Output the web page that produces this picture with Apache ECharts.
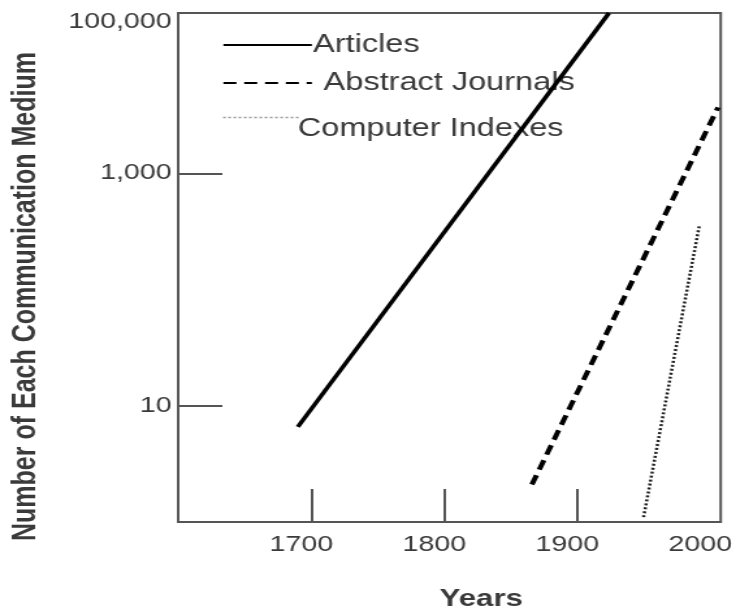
<!DOCTYPE html>
<html>
<head>
<meta charset="utf-8">
<script src="https://cdn.jsdelivr.net/npm/echarts@6/dist/echarts.min.js"></script>
<style>
  html, body { margin: 0; padding: 0; background: #fff; overflow: hidden; }
  #chart { width: 566px; height: 616px; transform: scaleX(1.3004); transform-origin: 0 0; }
</style>
</head>
<body>
<div id="chart"></div>
<script>
// ---- data ----
const seriesNames = ['Articles', 'Abstract Journals', 'Computer Indexes'];
const articlesYears = [1690, 1924];
const articlesValues = [6.6, 24000];
const abstractYears = [1866, 2006];
const abstractValues = [2.1, 3700];
const computerYears = [1950, 1992];
const computerValues = [1.1, 360];

const xTickValues = [1700, 1800, 1900];
const xLabelValues = [1700, 1800, 1900, 2000];
const yTickValues = [10, 1000];
const yLabelValues = [10, 1000, 23998];
const yLabelTexts = ['10', '1,000', '100,000'];

const xMin = 1600, xMax = 2008;
const yMin = 1, yMax = 24000;

function pairs(xs, ys) { return xs.map((x, i) => [x, ys[i]]); }

const FONT = 'Liberation Sans, Arial, sans-serif';
const AXIS_COLOR = '#555';
const TEXT_COLOR = '#3a3a3a';

const chart = echarts.init(document.getElementById('chart'), null, { renderer: 'canvas' });

chart.setOption({
  backgroundColor: '#fff',
  animation: false,
  textStyle: { fontFamily: FONT },
  grid: {
    left: 137, right: 10.8, top: 13, bottom: 86,
    show: true, borderColor: AXIS_COLOR, borderWidth: 2, backgroundColor: 'transparent'
  },
  legend: [
    {
      z: 1, padding: 0,
      orient: 'vertical', left: 170.8, top: 32.5,
      itemWidth: 68, itemHeight: 14, itemGap: 13,
      selectedMode: false,
      itemStyle: { opacity: 0 },
      textStyle: { fontSize: 25, lineHeight: 25, color: TEXT_COLOR, fontFamily: FONT },
      data: [
        { name: seriesNames[0], textStyle: { padding: [0, 0, 0, -4] } },
        { name: seriesNames[1], textStyle: { padding: [0, 0, 0, 4] } }
      ]
    },
    {
      z: 1, padding: 0,
      orient: 'vertical', left: 170.8, top: 93,
      itemWidth: 58.5, itemHeight: 14,
      selectedMode: false,
      itemStyle: { opacity: 0 },
      lineStyle: { color: '#999', width: 1.5 },
      formatter: '\n{name}',
      textStyle: { fontSize: 25, lineHeight: 24, color: TEXT_COLOR, fontFamily: FONT },
      data: [{ name: seriesNames[2], textStyle: { padding: [0, 0, 0, -6] } }]
    }
  ],
  xAxis: {
    type: 'value', min: xMin, max: xMax,
    name: 'Years', nameLocation: 'middle', nameGap: 65,
    nameTextStyle: { fontSize: 24, fontWeight: 'bold', color: TEXT_COLOR, fontFamily: FONT, padding: [0, 0, 0, 49] },
    axisLine: { show: false },
    splitLine: { show: false },
    axisTick: {
      show: true, inside: true, length: 33, customValues: xTickValues,
      lineStyle: { color: AXIS_COLOR, width: 2 }
    },
    axisLabel: {
      customValues: xLabelValues, margin: 12, fontSize: 22, color: TEXT_COLOR,
      fontFamily: FONT, padding: [0, 15, 0, 0],
      formatter: function (v) { return String(v); }
    }
  },
  yAxis: {
    type: 'log', logBase: 10, min: yMin, max: yMax,
    name: 'Number of Each Communication Medium', nameLocation: 'middle', nameGap: 104,
    nameTextStyle: { fontSize: 25, fontWeight: 'bold', color: TEXT_COLOR, fontFamily: FONT, padding: [0, 58, 0, 0] },
    axisLine: { show: false },
    splitLine: { show: false },
    minorTick: { show: false },
    axisTick: {
      show: true, inside: true, length: 34, customValues: yTickValues,
      lineStyle: { color: AXIS_COLOR, width: 2 }
    },
    axisLabel: {
      customValues: yLabelValues, margin: 5, fontSize: 22, color: TEXT_COLOR, fontFamily: FONT,
      formatter: function (v) {
        let best = 0, bd = Infinity;
        yLabelValues.forEach((t, i) => {
          const d = Math.abs(Math.log10(t) - Math.log10(v));
          if (d < bd) { bd = d; best = i; }
        });
        const txt = yLabelTexts[best];
        return best === yLabelTexts.length - 1 ? '{top|' + txt + '}' : txt;
      },
      rich: { top: { fontSize: 22, color: TEXT_COLOR, fontFamily: FONT, padding: [18, 0, 0, 0] } }
    }
  },
  series: [
    {
      name: seriesNames[0], type: 'line', symbol: 'none', z: 5,
      data: pairs(articlesYears, articlesValues),
      lineStyle: { color: '#000', width: 3.5, type: 'solid' },
      itemStyle: { color: '#000' }
    },
    {
      name: seriesNames[1], type: 'line', symbol: 'none', z: 5,
      data: pairs(abstractYears, abstractValues),
      lineStyle: { color: '#000', width: 4, type: [10, 6] },
      itemStyle: { color: '#000' }
    },
    {
      name: seriesNames[2], type: 'line', symbol: 'none', z: 5,
      data: pairs(computerYears, computerValues),
      lineStyle: { color: '#222', width: 2.5, type: [2, 2] },
      itemStyle: { color: '#222' }
    }
  ]
});
</script>
</body>
</html>
